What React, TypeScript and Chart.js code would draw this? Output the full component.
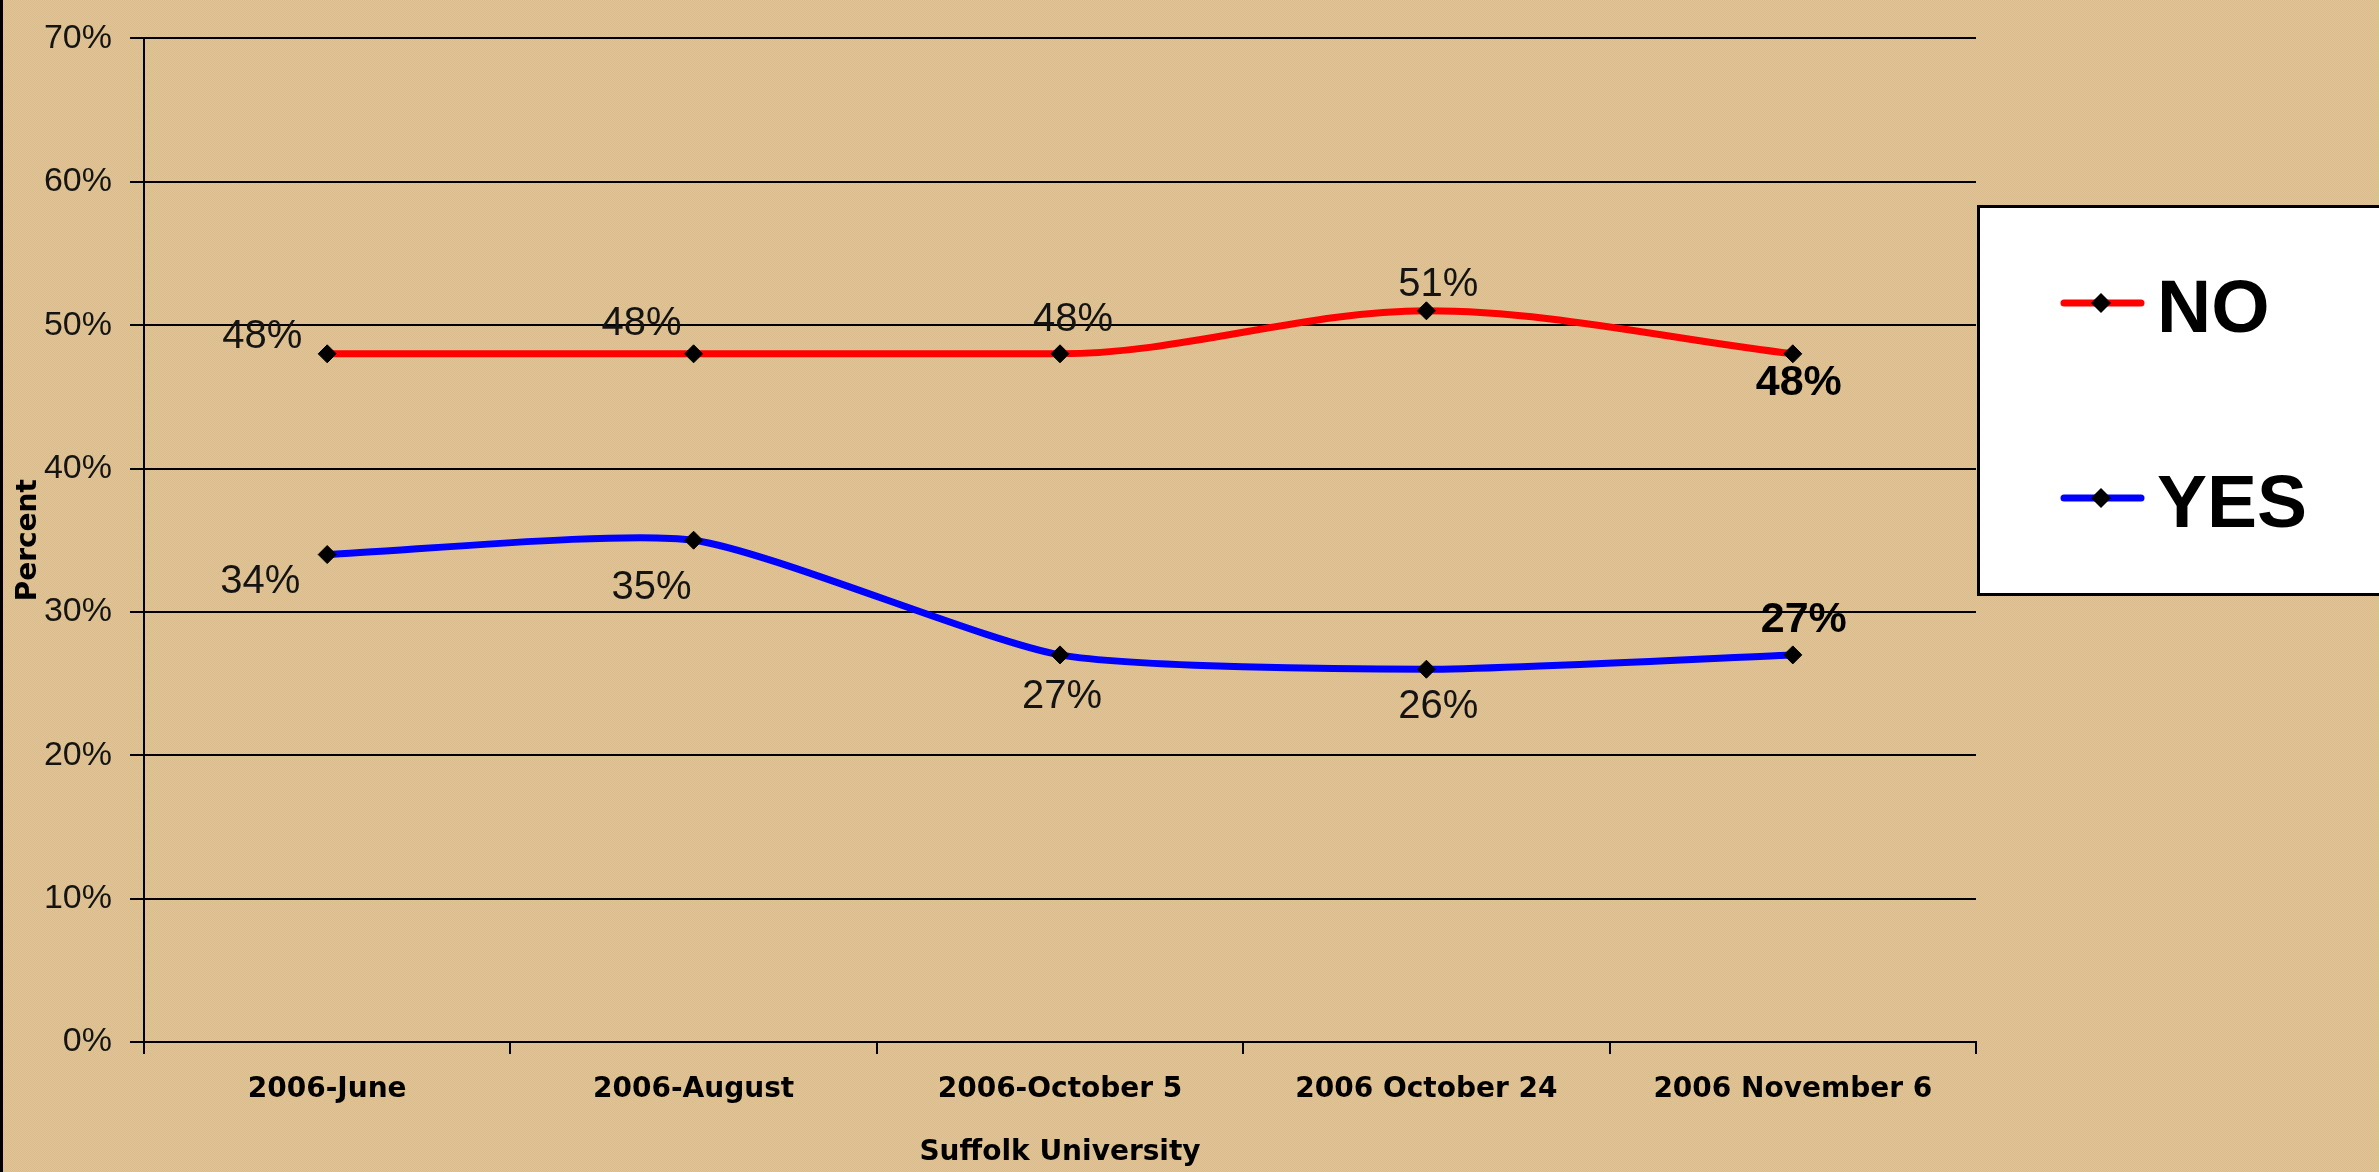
import React, { useEffect, useRef } from "react";
import { Chart, registerables } from "chart.js";

Chart.register(...registerables);

// ---- Data ----
const categories = ["2006-June", "2006-August", "2006-October 5", "2006 October 24", "2006 November 6"];
const seriesNames = ["NO", "YES"];
const noValues = [48, 48, 48, 51, 48];
const yesValues = [34, 35, 27, 26, 27];
const yTickValues = [0, 10, 20, 30, 40, 50, 60, 70];
const xAxisTitle = "Suffolk University";
const yAxisTitle = "Percent";

// ---- Styles (label placement relative to each point, px) ----
const seriesColors = ["#FF0000", "#0000FF"];
const seriesSmoothing = [
  { cubicInterpolationMode: "monotone" },
  { tension: 0.2 },
];
const labelOffsets = [
  [[-65, -17], [-52, -30], [13, -34], [12, -26], [6, 29]],
  [[-67, 27], [-42, 48], [2, 42], [12, 38], [11, -35]],
];
const boldLabelIndex = 4;

const W = 2379;
const H = 1172;

const bgPlugin = {
  id: "bgTexture",
  beforeDraw(chart: any) {
    const ctx = chart.ctx;
    const tile = document.createElement("canvas");
    tile.width = 2;
    tile.height = 2;
    const t = tile.getContext("2d")!;
    t.fillStyle = "rgb(238,186,152)";
    t.fillRect(0, 0, 2, 2);
    t.fillStyle = "rgb(204,198,138)";
    t.fillRect(0, 0, 1, 1);
    t.fillRect(1, 1, 1, 1);
    const pat = ctx.createPattern(tile, "repeat");
    ctx.save();
    ctx.fillStyle = pat;
    ctx.fillRect(0, 0, chart.width, chart.height);
    ctx.fillStyle = "#000";
    ctx.fillRect(0, 0, 3, chart.height);
    ctx.restore();
  },
};

const labelPlugin = {
  id: "pointLabels",
  afterDatasetsDraw(chart: any) {
    const ctx = chart.ctx;
    ctx.save();
    ctx.textAlign = "center";
    ctx.textBaseline = "middle";
    chart.data.datasets.forEach((ds: any, di: number) => {
      const meta = chart.getDatasetMeta(di);
      meta.data.forEach((pt: any, i: number) => {
        const [dx, dy] = labelOffsets[di][i];
        const bold = i === boldLabelIndex;
        ctx.font = bold
          ? "bold 43px 'Liberation Sans', Arial, sans-serif"
          : "40px 'Liberation Sans', Arial, sans-serif";
        ctx.fillStyle = bold ? "#000" : "#141414";
        ctx.fillText(ds.data[i] + "%", pt.x + dx, pt.y + dy);
      });
    });
    ctx.restore();
  },
};

const legendPlugin = {
  id: "boxLegend",
  afterDraw(chart: any) {
    const ctx = chart.ctx;
    const left = chart.chartArea.right + 1;
    const top = 205;
    const boxH = 391;
    ctx.save();
    ctx.fillStyle = "#fff";
    ctx.fillRect(left, top, 500, boxH);
    ctx.strokeStyle = "#000";
    ctx.lineWidth = 3;
    ctx.strokeRect(left + 1.5, top + 1.5, 500, boxH - 3);
    chart.data.datasets.forEach((ds: any, i: number) => {
      const y = 303 + i * 195;
      ctx.strokeStyle = ds.borderColor;
      ctx.lineWidth = 7;
      ctx.lineCap = "round";
      ctx.beginPath();
      ctx.moveTo(left + 87, y);
      ctx.lineTo(left + 164, y);
      ctx.stroke();
      const cx = left + 124;
      const r = 10;
      ctx.fillStyle = "#000";
      ctx.beginPath();
      ctx.moveTo(cx, y - r);
      ctx.lineTo(cx + r, y);
      ctx.lineTo(cx, y + r);
      ctx.lineTo(cx - r, y);
      ctx.closePath();
      ctx.fill();
      ctx.font = "bold 75px 'Liberation Sans', Arial, sans-serif";
      ctx.textAlign = "left";
      ctx.textBaseline = "alphabetic";
      ctx.fillText(ds.label, left + 180, y + 29);
    });
    ctx.restore();
  },
};

export default function App() {
  const canvasRef = useRef<HTMLCanvasElement | null>(null);

  useEffect(() => {
    const canvas = canvasRef.current;
    if (!canvas) return;
    const boldAxisFont = { family: "'DejaVu Sans', sans-serif", size: 28, weight: "bold" as const };
    const chart = new Chart(canvas, {
      type: "line",
      data: {
        labels: categories,
        datasets: [noValues, yesValues].map((vals, i) => ({
          label: seriesNames[i],
          data: vals,
          borderColor: seriesColors[i],
          backgroundColor: "#000",
          borderWidth: 7,
          pointStyle: "rectRot",
          pointRadius: 9,
          pointBackgroundColor: "#000",
          pointBorderColor: "#000",
          pointBorderWidth: 1,
          ...seriesSmoothing[i],
          fill: false,
        })),
      },
      options: {
        animation: false,
        responsive: false,
        maintainAspectRatio: false,
        layout: { padding: { left: 0, top: 31, right: 403, bottom: 0 } },
        plugins: {
          legend: { display: false },
          tooltip: { enabled: false },
          title: { display: false },
        },
        scales: {
          x: {
            type: "category",
            offset: true,
            grid: {
              display: true,
              drawOnChartArea: false,
              offset: true,
              color: "#000",
              lineWidth: 2,
              tickLength: 12,
              tickColor: "#000",
              tickWidth: 2,
            },
            border: { display: true, color: "#000", width: 2 },
            ticks: {
              color: "#000",
              font: boldAxisFont,
              padding: 19,
              maxRotation: 0,
              autoSkip: false,
            },
            title: {
              display: true,
              text: xAxisTitle,
              color: "#000",
              font: boldAxisFont,
              padding: { top: 4, bottom: 2 },
            },
            afterFit: (s: any) => {
              s.height = 130;
            },
          },
          y: {
            min: 0,
            max: 70,
            afterBuildTicks: (s: any) => {
              s.ticks = yTickValues.map((v) => ({ value: v }));
            },
            ticks: {
              color: "#141414",
              font: { family: "'Liberation Sans', Arial, sans-serif", size: 34 },
              padding: 18,
              callback: (v: any) => v + "%",
            },
            grid: {
              color: "#000",
              lineWidth: 2,
              tickLength: 14,
              tickColor: "#000",
              tickWidth: 2,
            },
            border: { display: true, color: "#000", width: 2 },
            title: {
              display: true,
              text: yAxisTitle,
              color: "#000",
              font: boldAxisFont,
              padding: { top: 12, bottom: 0 },
            },
            afterFit: (s: any) => {
              s.width = 144;
            },
          },
        },
      } as any,
      plugins: [bgPlugin, labelPlugin, legendPlugin],
    });
    return () => chart.destroy();
  }, []);

  return (
    <div style={{ position: "fixed", left: 0, top: 0, width: W, height: H, overflow: "hidden" }}>
      <canvas ref={canvasRef} width={W} height={H} style={{ width: W, height: H, display: "block" }} />
    </div>
  );
}
